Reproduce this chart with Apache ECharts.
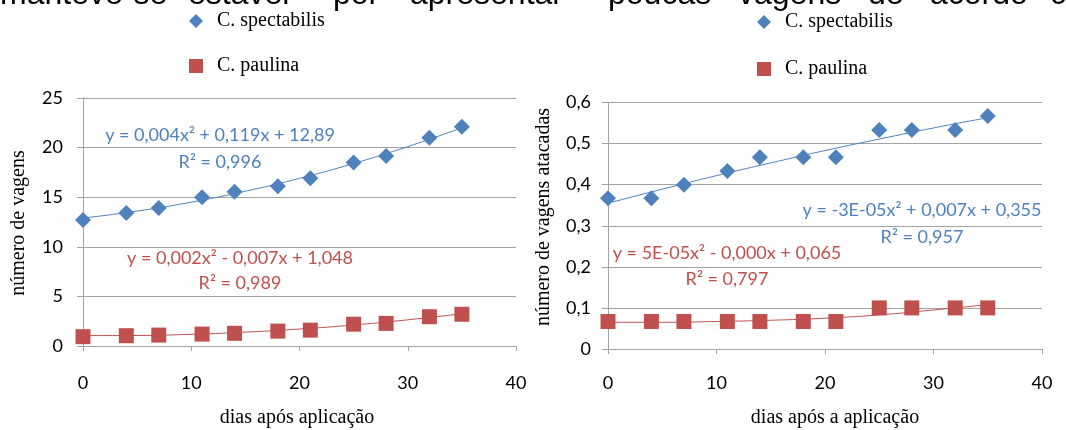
<!DOCTYPE html>
<html>
<head>
<meta charset="utf-8">
<script src="https://cdn.jsdelivr.net/npm/echarts@6/dist/echarts.min.js"></script>
<style>
  html, body { margin: 0; padding: 0; background: #fff; }
  #chart { width: 1066px; height: 430px; }
</style>
</head>
<body>
<div id="chart"></div>
<script>
// dias de avaliação
var days = [0, 4, 7, 11, 14, 18, 21, 25, 28, 32, 35];
// número de vagens
var spectVagens = [12.7, 13.4, 13.9, 15.0, 15.55, 16.1, 16.9, 18.5, 19.15, 21.0, 22.1];
var paulinaVagens = [0.94, 1.04, 1.1, 1.2, 1.28, 1.5, 1.6, 2.2, 2.28, 2.95, 3.2];
// número de vagens atacadas
var spectAtacadas = [0.367, 0.367, 0.4, 0.433, 0.467, 0.467, 0.467, 0.533, 0.533, 0.533, 0.567];
var paulinaAtacadas = [0.067, 0.067, 0.067, 0.067, 0.067, 0.067, 0.067, 0.1, 0.1, 0.1, 0.1];

// linhas de tendência
var trendDays = [0, 5, 10, 15, 20, 25, 30, 35];
var trendSpectVagens = [12.9, 13.6, 14.5, 15.6, 16.9, 18.4, 20.1, 22.0];
var trendPaulinaVagens = [1.05, 1.06, 1.18, 1.4, 1.71, 2.12, 2.64, 3.25];
var trendSpectAtacadas = [0.355, 0.389, 0.422, 0.453, 0.483, 0.511, 0.538, 0.563];
var trendPaulinaAtacadas = [0.065, 0.065, 0.067, 0.07, 0.075, 0.083, 0.095, 0.108];

// textos
var xTicks = [0, 10, 20, 30, 40];
var legendNames = ['C. spectabilis', 'C. paulina'];
var eqLeftBlue = ['y = 0,004x² + 0,119x + 12,89', 'R² = 0,996'];
var eqLeftRed = ['y = 0,002x² - 0,007x + 1,048', 'R² = 0,989'];
var eqRightBlue = ['y = -3E-05x² + 0,007x + 0,355', 'R² = 0,957'];
var eqRightRed = ['y = 5E-05x² - 0,000x + 0,065', 'R² = 0,797'];
var topWords = ['manteve-se', 'estável', 'por', 'apresentar', 'poucas', 'vagens', 'de', 'acordo', 'co'];

var BLUE = '#4F81BD';
var RED = '#C0504D';
var GRID = '#a3a3a3';

function pairs (xs, ys) {
  var out = [];
  for (var i = 0; i < xs.length; i++) {
    out.push([xs[i], ys[i]]);
  }
  return out;
}

function comma (v) {
  if (v === 0) return '0';
  return v.toFixed(1).replace('.', ',');
}

function xAxisCfg (gridIndex, margin) {
  return {
    type: 'value',
    gridIndex: gridIndex,
    min: xTicks[0],
    max: xTicks[xTicks.length - 1],
    interval: 10,
    axisLine: { show: true, lineStyle: { color: GRID, width: 1 } },
    axisTick: { show: true, length: 5, lineStyle: { color: GRID } },
    splitLine: { show: false },
    axisLabel: { margin: margin, color: '#000', fontFamily: 'Lato', fontSize: 18 }
  };
}

function eqText (lines, cx, y1, y2, color) {
  return [{
    type: 'text', x: cx, y: y1,
    style: { text: lines[0], fill: color, font: '18px Lato', align: 'center', verticalAlign: 'middle' }
  }, {
    type: 'text', x: cx, y: y2,
    style: { text: lines[1], fill: color, font: '18px Lato', align: 'center', verticalAlign: 'middle' }
  }];
}

// linha de texto cortada no topo
var wordX = [0, 188, 333, 410, 608, 738, 868, 930, 1050];
var graphics = [];
for (var w = 0; w < topWords.length; w++) {
  graphics.push({
    type: 'text', x: wordX[w], y: -5,
    style: { text: topWords[w], fill: '#000', font: '32px "Liberation Sans"', align: 'left', verticalAlign: 'middle' }
  });
}
graphics = graphics
  .concat(eqText(eqLeftBlue, 220, 135, 162, BLUE))
  .concat(eqText(eqLeftRed, 240, 258, 283, RED))
  .concat(eqText(eqRightBlue, 922, 210, 237, BLUE))
  .concat(eqText(eqRightRed, 727, 253, 279, RED));

// títulos dos eixos
var serif = '20px "Liberation Serif"';
graphics.push(
  { type: 'text', x: 297, y: 418, style: { text: 'dias após aplicação', fill: '#000', font: serif, align: 'center', verticalAlign: 'middle' } },
  { type: 'text', x: 835, y: 418, style: { text: 'dias após a aplicação', fill: '#000', font: serif, align: 'center', verticalAlign: 'middle' } },
  { type: 'text', x: 19, y: 223, rotation: Math.PI / 2, style: { text: 'número de vagens', fill: '#000', font: serif, align: 'center', verticalAlign: 'middle' } },
  { type: 'text', x: 544, y: 217, rotation: Math.PI / 2, style: { text: 'número de vagens atacadas', fill: '#000', font: serif, align: 'center', verticalAlign: 'middle' } }
);

var legendText = { fontFamily: 'Liberation Serif', fontSize: 20, color: '#000', padding: [0, 0, 0, 9] };

var option = {
  backgroundColor: '#fff',
  animation: false,
  legend: [{
    data: [{ name: legendNames[0], icon: 'diamond' }, { name: legendNames[1], icon: 'rect' }],
    orient: 'vertical',
    left: 184,
    top: 6,
    itemWidth: 14,
    itemHeight: 14,
    itemGap: 25,
    selectedMode: false,
    textStyle: legendText
  }, {
    data: [{ name: legendNames[0], icon: 'diamond' }, { name: legendNames[1], icon: 'rect' }],
    orient: 'vertical',
    left: 752,
    top: 7,
    itemWidth: 14,
    itemHeight: 14,
    itemGap: 27,
    selectedMode: false,
    textStyle: legendText
  }],
  grid: [
    { left: 83, top: 98, width: 433, height: 248, outerBoundsMode: 'none' },
    { left: 608, top: 102.5, width: 434, height: 246.5, outerBoundsMode: 'none' }
  ],
  xAxis: [xAxisCfg(0, 28), xAxisCfg(1, 25)],
  yAxis: [{
    type: 'value',
    gridIndex: 0,
    min: 0,
    max: 25,
    interval: 5,
    axisLine: { show: true, lineStyle: { color: GRID } },
    axisTick: { show: true, length: 6, lineStyle: { color: GRID } },
    splitLine: { show: true, lineStyle: { color: GRID, width: 1 } },
    axisLabel: { margin: 20, color: '#000', fontFamily: 'Lato', fontSize: 18 }
  }, {
    type: 'value',
    gridIndex: 1,
    min: 0,
    max: 0.6,
    interval: 0.1,
    axisLine: { show: true, lineStyle: { color: GRID } },
    axisTick: { show: true, length: 6, lineStyle: { color: GRID } },
    splitLine: { show: true, lineStyle: { color: GRID, width: 1 } },
    axisLabel: { margin: 17, color: '#000', fontFamily: 'Lato', fontSize: 18, formatter: comma }
  }],
  graphic: graphics,
  series: [
    // tendências
    { name: 'tend1', type: 'line', xAxisIndex: 0, yAxisIndex: 0, smooth: true, symbol: 'none', silent: true,
      data: pairs(trendDays, trendSpectVagens), lineStyle: { color: BLUE, width: 1 }, z: 2 },
    { name: 'tend2', type: 'line', xAxisIndex: 0, yAxisIndex: 0, smooth: true, symbol: 'none', silent: true,
      data: pairs(trendDays, trendPaulinaVagens), lineStyle: { color: RED, width: 1 }, z: 2 },
    { name: 'tend3', type: 'line', xAxisIndex: 1, yAxisIndex: 1, smooth: true, symbol: 'none', silent: true,
      data: pairs(trendDays, trendSpectAtacadas), lineStyle: { color: BLUE, width: 1 }, z: 2 },
    { name: 'tend4', type: 'line', xAxisIndex: 1, yAxisIndex: 1, smooth: true, symbol: 'none', silent: true,
      data: pairs(trendDays, trendPaulinaAtacadas), lineStyle: { color: RED, width: 1 }, z: 2 },
    // pontos
    { name: legendNames[0], type: 'scatter', xAxisIndex: 0, yAxisIndex: 0, symbol: 'diamond', symbolSize: 16,
      data: pairs(days, spectVagens), itemStyle: { color: BLUE, opacity: 1 }, z: 3 },
    { name: legendNames[1], type: 'scatter', xAxisIndex: 0, yAxisIndex: 0, symbol: 'rect', symbolSize: 15,
      data: pairs(days, paulinaVagens), itemStyle: { color: RED, opacity: 1 }, z: 3 },
    { name: legendNames[0], type: 'scatter', xAxisIndex: 1, yAxisIndex: 1, symbol: 'diamond', symbolSize: 16,
      data: pairs(days, spectAtacadas), itemStyle: { color: BLUE, opacity: 1 }, z: 3 },
    { name: legendNames[1], type: 'scatter', xAxisIndex: 1, yAxisIndex: 1, symbol: 'rect', symbolSize: 15,
      data: pairs(days, paulinaAtacadas), itemStyle: { color: RED, opacity: 1 }, z: 3 }
  ]
};

var myChart = echarts.init(document.getElementById('chart'), null, { renderer: 'canvas' });
myChart.setOption(option);
</script>
</body>
</html>
